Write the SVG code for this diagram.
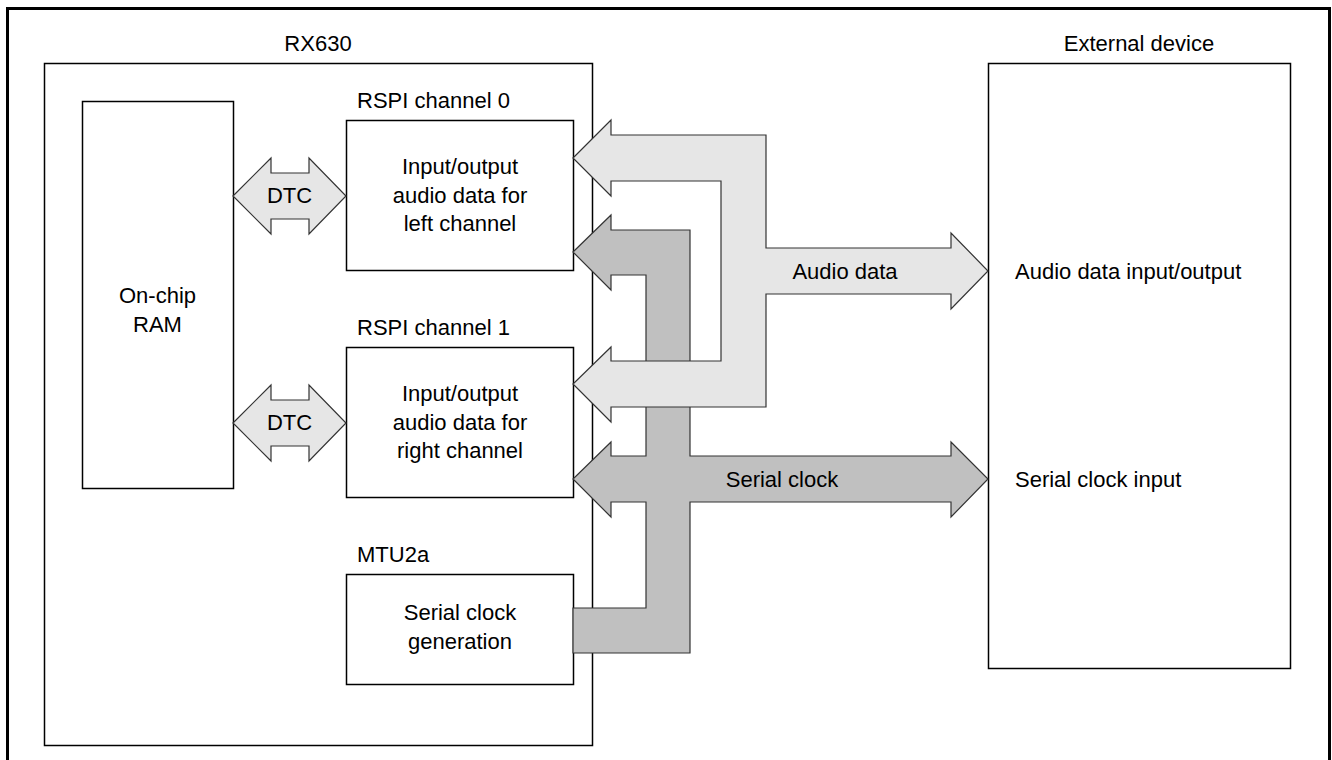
<svg xmlns="http://www.w3.org/2000/svg" width="1332" height="760" viewBox="0 0 1332 760">
<style>
  .box { fill: #ffffff; stroke: #000000; stroke-width: 1.5; }
  .frame { fill: none; stroke: #000000; stroke-width: 3; }
  .light { fill: #e6e6e6; stroke: #333333; stroke-width: 1.2; stroke-linejoin: miter; }
  .dark { fill: #c0c0c0; stroke: #333333; stroke-width: 1.2; stroke-linejoin: miter; }
  text { font-family: "Liberation Sans", Arial, sans-serif; font-size: 22px; fill: #000000; }
  .c { text-anchor: middle; }
</style>
<rect class="frame" x="7.5" y="8.5" width="1322" height="800"/>
<g id="rx630">
  <rect class="box" x="44.5" y="63.5" width="548" height="682"/>
  <text class="c" x="318" y="51">RX630</text>
</g>
<g id="external-device">
  <rect class="box" x="988.5" y="63.5" width="302" height="605"/>
  <text class="c" x="1139" y="51">External device</text>
  <text x="1015" y="279">Audio data input/output</text>
  <text x="1015" y="487">Serial clock input</text>
</g>
<g id="on-chip-ram">
  <rect class="box" x="82.5" y="101.5" width="151" height="387"/>
  <text class="c" x="157.5" y="303">On-chip</text>
  <text class="c" x="157.5" y="332">RAM</text>
</g>
<g id="rspi0">
  <rect class="box" x="346.5" y="120.5" width="227" height="150"/>
  <text x="357" y="108">RSPI channel 0</text>
  <text class="c" x="460" y="174">Input/output</text>
  <text class="c" x="460" y="203">audio data for</text>
  <text class="c" x="460" y="231">left channel</text>
</g>
<g id="rspi1">
  <rect class="box" x="346.5" y="347.5" width="227" height="150"/>
  <text x="357" y="335">RSPI channel 1</text>
  <text class="c" x="460" y="401">Input/output</text>
  <text class="c" x="460" y="430">audio data for</text>
  <text class="c" x="460" y="458">right channel</text>
</g>
<g id="mtu2a">
  <rect class="box" x="346.5" y="574.5" width="227" height="110"/>
  <text x="357" y="562">MTU2a</text>
  <text class="c" x="460" y="620">Serial clock</text>
  <text class="c" x="460" y="649">generation</text>
</g>
<g id="connectors">
  <path class="light" d="M233,196 L271,158 L271,173 L309,173 L309,158 L346,196 L309,234 L309,219 L271,219 L271,234 Z"/>
  <path class="light" d="M233,423 L271,385 L271,400 L309,400 L309,385 L346,423 L309,461 L309,446 L271,446 L271,461 Z"/>
  <text class="c" x="289.5" y="203">DTC</text>
  <text class="c" x="289.5" y="430">DTC</text>
  <path class="dark" d="M573,252 L611,215 L611,230 L690,230 L690,456 L951,456 L951,442 L988,479 L951,517 L951,502 L690,502 L690,653 L573,653 L573,608 L646,608 L646,502 L611,502 L611,517 L573,479 L611,442 L611,456 L646,456 L646,275 L611,275 L611,290 Z"/>
  <path class="light" d="M573,158 L611,120 L611,135 L766,135 L766,248 L951,248 L951,233 L988,271 L951,309 L951,294 L766,294 L766,407 L611,407 L611,422 L573,384 L611,347 L611,361 L721,361 L721,181 L611,181 L611,196 Z"/>
  <text class="c" x="845" y="279">Audio data</text>
  <text class="c" x="782" y="487">Serial clock</text>
</g>
</svg>
